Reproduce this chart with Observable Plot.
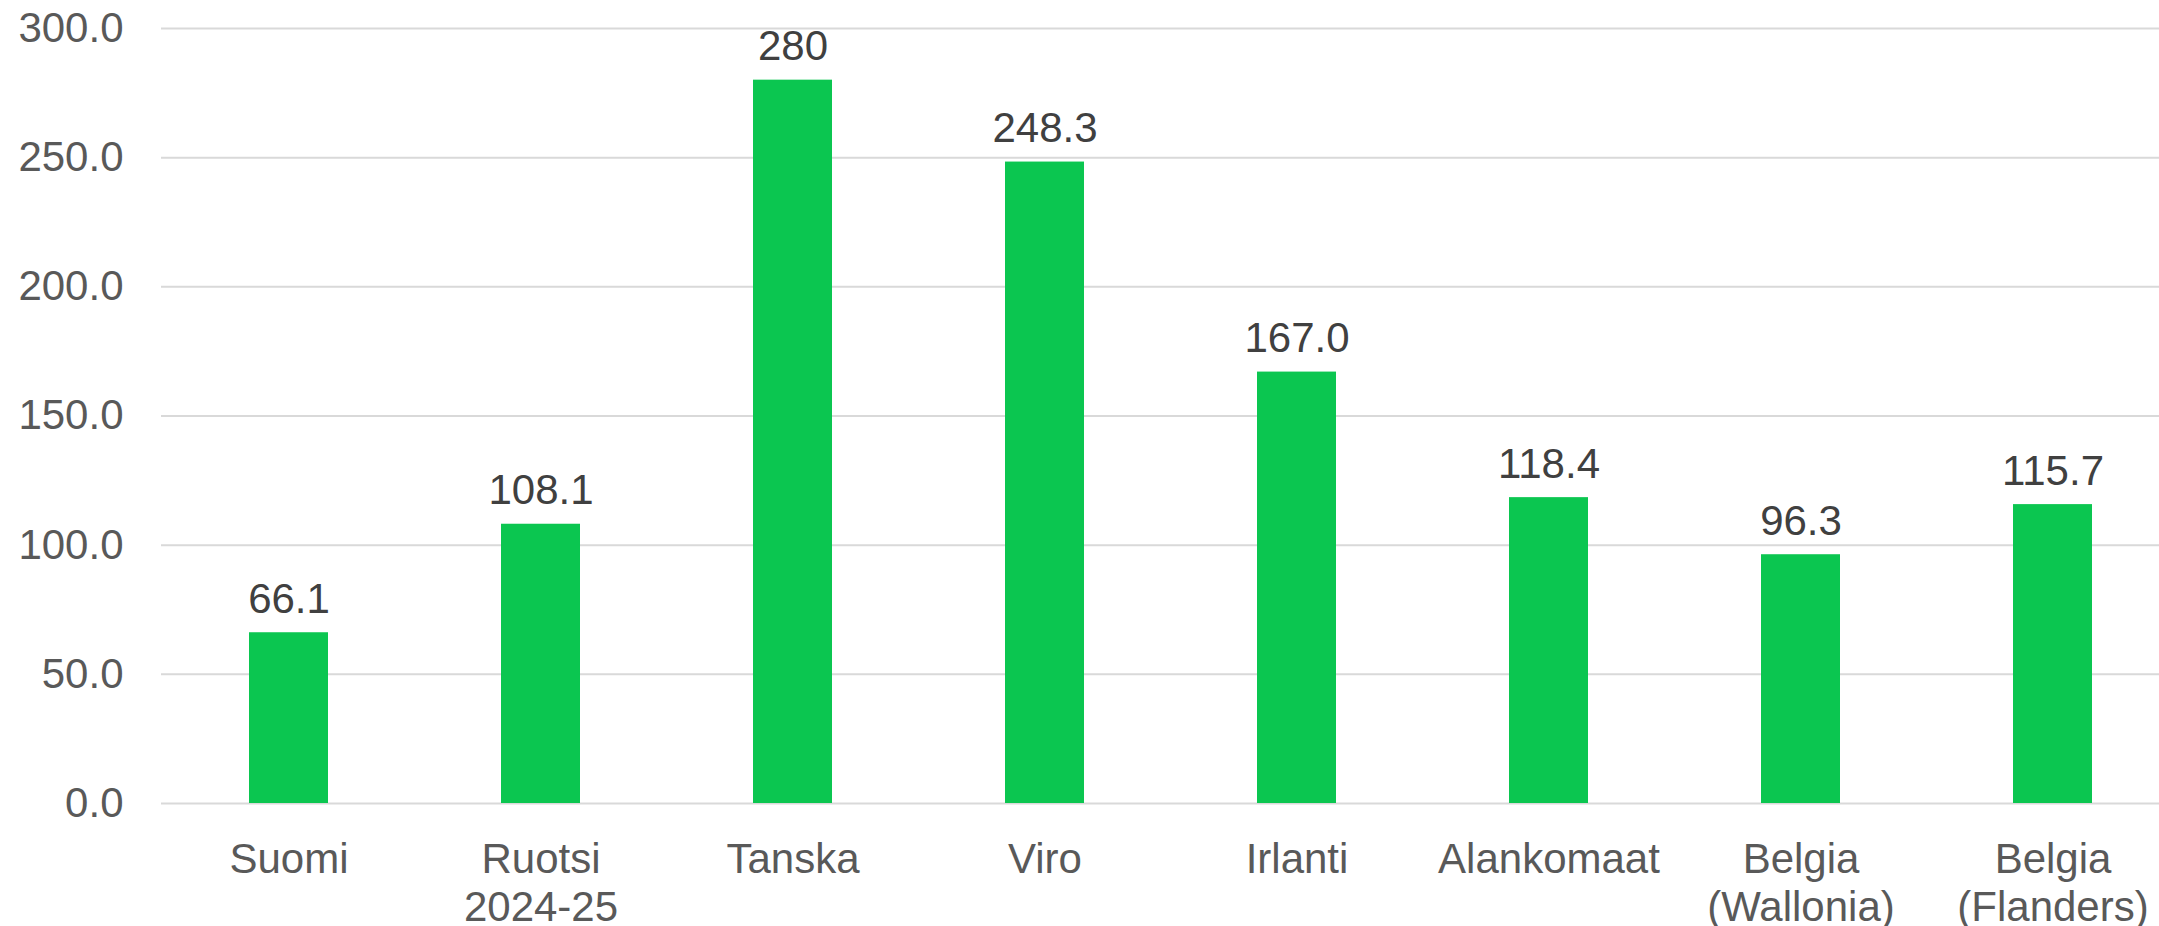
<!DOCTYPE html>
<html><head><meta charset="utf-8">
<script src="https://cdn.jsdelivr.net/npm/d3@7"></script>
<script src="https://cdn.jsdelivr.net/npm/@observablehq/plot@0.6"></script>
<style>html,body{margin:0;padding:0;background:#fff;overflow:hidden}</style>
</head><body><div id="chart"></div>
<script>
const categories = ["Suomi","Ruotsi\n2024-25","Tanska","Viro","Irlanti","Alankomaat","Belgia\n(Wallonia)","Belgia\n(Flanders)"];
const values = [66.1,108.1,280,248.3,167.0,118.4,96.3,115.7];
const valueLabels = ["66.1","108.1","280","248.3","167.0","118.4","96.3","115.7"];
const yTicks = [0,50,100,150,200,250,300];

const data = categories.map((c,i)=>({cat:c, value:values[i], label:valueLabels[i]}));

const chart = Plot.plot({
  width: 2159, height: 926,
  marginLeft: 161, marginRight: 0, marginTop: 28, marginBottom: 123,
  style: {fontFamily: "'Liberation Sans', Arial, sans-serif", background: "#fff"},
  x: {domain: categories, range: [161, 2180.2], paddingInner: 0.687, paddingOuter: 0.3435, align: 0.5, label: null},
  y: {domain: [0,300], label: null},
  marks: [
    Plot.ruleY(yTicks, {stroke: "#d9d9d9", strokeWidth: 2}),
    Plot.barY(data, {x: "cat", y: "value", fill: "#0bc650"}),
    Plot.text(data, {x: "cat", y: "value", text: "label", lineAnchor: "bottom", dy: -20, fontSize: 42, fill: "#404040"}),
    Plot.axisY(yTicks, {tickSize: 0, tickPadding: 38, fontSize: 42, color: "#595959", tickFormat: d => d.toFixed(1), label: null}),
    Plot.axisX({tickSize: 0, tickPadding: 35, fontSize: 42, color: "#595959", lineHeight: 1.15, label: null})
  ]
});
document.getElementById("chart").appendChild(chart);
</script></body></html>
